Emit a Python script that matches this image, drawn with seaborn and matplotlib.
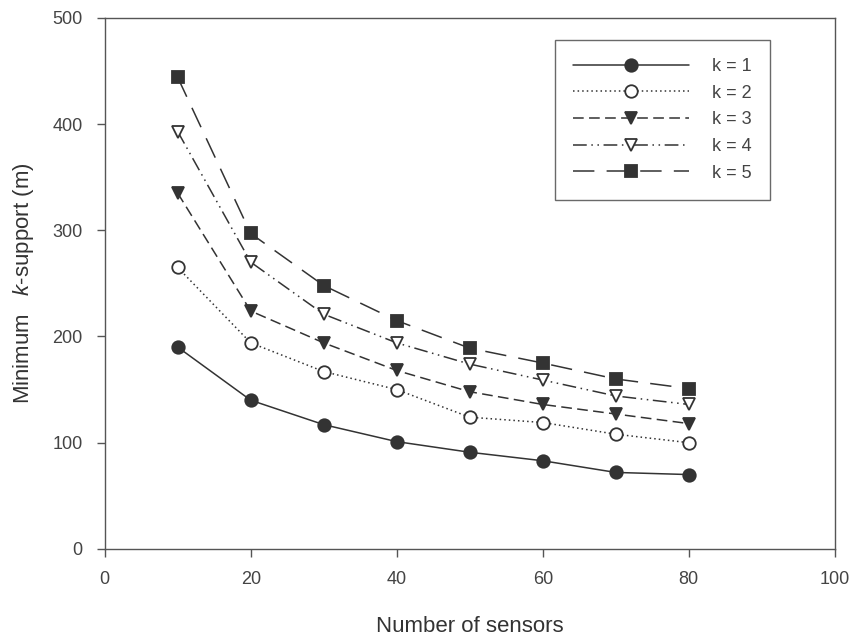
import pandas as pd
import seaborn as sns
import matplotlib.pyplot as plt

# Values
sensors = [10, 20, 30, 40, 50, 60, 70, 80]
k1 = [190, 140, 117, 101, 91, 83, 72, 70]
k2 = [265, 194, 167, 150, 124, 119, 108, 100]
k3 = [335, 224, 194, 168, 148, 136, 127, 118]
k4 = [393, 270, 221, 194, 174, 159, 144, 136]
k5 = [444, 297, 248, 215, 189, 175, 160, 151]
series_names = ['k = 1', 'k = 2', 'k = 3', 'k = 4', 'k = 5']
hollow = ['k = 2', 'k = 4']

# Build a long table for seaborn
df = pd.DataFrame({
    'Number of sensors': sensors * 5,
    'value': k1 + k2 + k3 + k4 + k5,
    'k': [name for name in series_names for _ in sensors],
})

sns.set_style('ticks')
plt.rcParams['font.family'] = ['Liberation Sans', 'DejaVu Sans']
plt.rcParams['mathtext.fontset'] = 'custom'
plt.rcParams['mathtext.it'] = 'Liberation Sans:italic'
plt.rcParams['mathtext.rm'] = 'Liberation Sans'

ink = '#333333'
markers = {'k = 1': 'o', 'k = 2': 'o', 'k = 3': 'v', 'k = 4': 'v', 'k = 5': 's'}
dashes = {'k = 1': '', 'k = 2': (1, 2), 'k = 3': (7, 3.5),
          'k = 4': (9, 3, 1, 3, 1, 3), 'k = 5': (14, 8)}
palette = {name: ink for name in series_names}

fig, ax = plt.subplots(figsize=(8.58, 6.39), dpi=100)
fig.subplots_adjust(left=0.122, right=0.973, top=0.972, bottom=0.141)

sns.lineplot(data=df, x='Number of sensors', y='value', hue='k', style='k',
             markers=markers, dashes=dashes, palette=palette,
             linewidth=1.1, markersize=9, ax=ax)

# hollow markers for k = 2 and k = 4 (one line per level, in order)
for name, line in zip(series_names, ax.get_lines()):
    if name in hollow:
        line.set_markerfacecolor('white')
    line.set_markeredgecolor(ink)
    line.set_markeredgewidth(1.3)

ax.set_xlim(0, 100)
ax.set_ylim(0, 500)
ax.set_xticks(range(0, 101, 20))
ax.set_yticks(range(0, 501, 100))
ax.tick_params(direction='out', length=6, width=1, colors='#555555', labelsize=13,
               labelcolor='#444444', pad=10)
for spine in ax.spines.values():
    spine.set_color('#555555')
    spine.set_linewidth(1.0)

ax.set_xlabel('Number of sensors', fontsize=16, color='#333333', labelpad=20)
ax.set_ylabel('Minimum   $\\it{k}$-support (m)', fontsize=16, color='#333333', labelpad=12)

handles, labels = ax.get_legend_handles_labels()
for h in handles:
    if h.get_label() in hollow:
        h.set_markerfacecolor('white')
    h.set_markeredgecolor(ink)
    h.set_markeredgewidth(1.3)
leg = ax.legend(handles, labels, loc='upper right', bbox_to_anchor=(0.911, 0.958),
                handlelength=6.4, handletextpad=1.3, fontsize=13, frameon=True,
                fancybox=False, edgecolor='#444444', labelspacing=0.53,
                borderpad=1.0, borderaxespad=0)
leg.get_frame().set_linewidth(1.0)
for t in leg.get_texts():
    t.set_color('#444444')

plt.savefig('out.png', dpi=100)
